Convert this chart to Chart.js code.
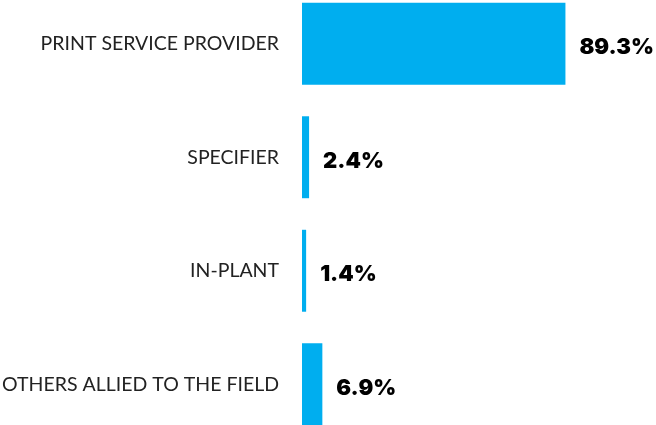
<!DOCTYPE html>
<html>
<head>
<meta charset="utf-8">
<script src="https://cdn.jsdelivr.net/npm/chart.js@4/dist/chart.umd.min.js"></script>
<style>
  html, body { margin: 0; padding: 0; background: #fff; overflow: hidden; }
  #respChart { position: absolute; left: 0; top: -13px; }
</style>
</head>
<body>
<canvas id="respChart" width="656" height="454"></canvas>
<script>
const categories = ["PRINT SERVICE PROVIDER", "SPECIFIER", "IN-PLANT", "OTHERS ALLIED TO THE FIELD"];
const shares = [89.3, 2.4, 1.4, 6.9];

// percentage printed just past the end of each bar
const valueLabels = {
  id: "valueLabels",
  afterDatasetsDraw(chart) {
    const ctx = chart.ctx;
    const meta = chart.getDatasetMeta(0);
    ctx.save();
    ctx.font = "900 22px Inter";
    ctx.fillStyle = "#000";
    ctx.textAlign = "left";
    ctx.textBaseline = "middle";
    meta.data.forEach((bar, i) => {
      ctx.fillText(shares[i] + "%", bar.x + 14, bar.y + 4);
    });
    ctx.restore();
  }
};

new Chart(document.getElementById("respChart"), {
  type: "bar",
  data: {
    labels: categories,
    datasets: [{
      data: shares,
      backgroundColor: "#00AEEF",
      borderWidth: 0,
      barPercentage: 1,
      categoryPercentage: 0.722
    }]
  },
  options: {
    indexAxis: "y",
    responsive: false,
    animation: false,
    layout: { padding: { left: 0, top: 0, bottom: 0, right: 59 } },
    plugins: {
      legend: { display: false },
      tooltip: { enabled: false }
    },
    scales: {
      x: {
        display: false,
        min: 0,
        max: 100
      },
      y: {
        grid: { display: false, drawTicks: false },
        border: { display: false },
        afterFit(scale) {
          scale.width = 302;
          scale.paddingTop = 0;
          scale.paddingBottom = 0;
        },
        ticks: {
          padding: 23,
          color: "#222",
          font: { family: "Lato", size: 19.5, weight: 400 }
        }
      }
    }
  },
  plugins: [valueLabels]
});
</script>
</body>
</html>
